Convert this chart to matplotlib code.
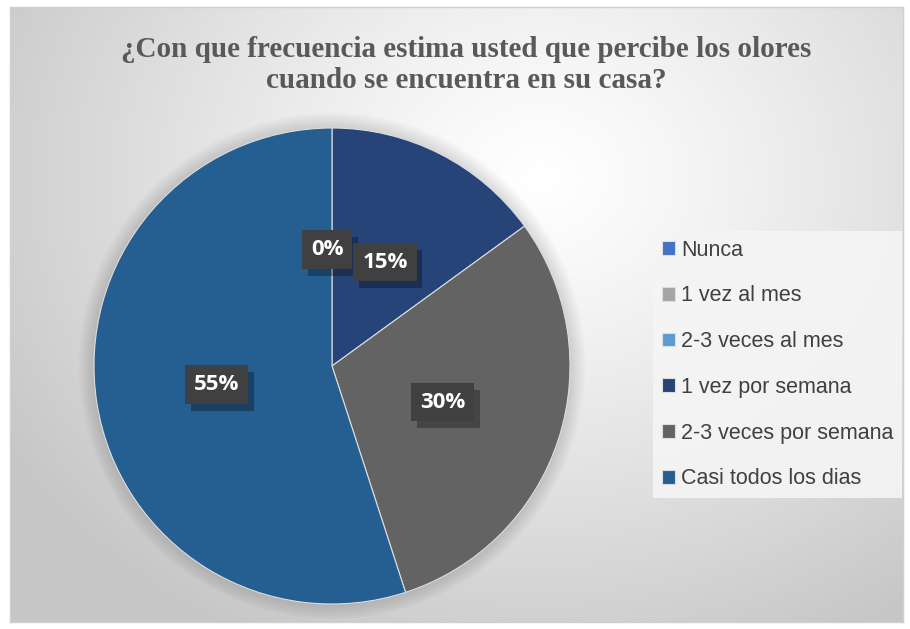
import numpy as np
import matplotlib.pyplot as plt
import matplotlib.patheffects as pe

categories = ["Nunca", "1 vez al mes", "2-3 veces al mes",
              "1 vez por semana", "2-3 veces por semana", "Casi todos los dias"]
values = [0, 0, 0, 15, 30, 55]
colors = ["#4472C4", "#A5A5A5", "#5B9BD5", "#264478", "#636363", "#255E91"]
title = "¿Con que frecuencia estima usted que percibe los olores\ncuando se encuentra en su casa?"

W, H = 910, 629
fig = plt.figure(figsize=(W / 100, H / 100), dpi=100)
fig.patch.set_facecolor("white")

# background: radial gradient inside a thin frame
bg = fig.add_axes([10 / W, 7 / H, 893 / W, 615 / H])
yy, xx = np.mgrid[0:615, 0:893]
cx, cy = 530, 170
d = np.sqrt(((xx - cx) / 620) ** 2 + ((yy - cy) / 520) ** 2)
d = np.clip(d, 0, 1)
shade = 1.0 - 0.22 * d ** 1.2
bg.imshow(np.dstack([shade] * 3), aspect="auto", extent=[0, 893, 615, 0])
bg.set_xticks([])
bg.set_yticks([])
for s in bg.spines.values():
    s.set_color("#d0d0d0")
    s.set_linewidth(1)

fig.text(466 / W, 1 - 65 / H, title, ha="center", va="center",
         fontsize=21, fontweight="bold", color="#595959",
         family="Liberation Serif", linespacing=1.15)

# pie
r_px = 238
ax = fig.add_axes([(332 - r_px) / W, (H - 366 - r_px) / H, 2 * r_px / W, 2 * r_px / H])

wedges, _ = ax.pie(values, colors=colors, startangle=90, counterclock=False,
                   radius=1.0, wedgeprops=dict(linewidth=0.8, edgecolor="#dddddd"))
ax.set_xlim(-1, 1)
ax.set_ylim(-1, 1)
ax.set_aspect("equal")
ax.axis("off")
for w in wedges:
    w.set_zorder(2)

# soft shadow around the pie
for k in range(8):
    circ = plt.Circle((0.0, 0.0), 1.0 + 0.008 * (k + 1), color="black",
                      alpha=0.014, lw=0, zorder=0, clip_on=False)
    ax.add_patch(circ)

total = sum(values)
shown_zero = False
for w, v in zip(wedges, values):
    ang = np.deg2rad((w.theta1 + w.theta2) / 2)
    x, y = 0.49 * np.cos(ang), 0.49 * np.sin(ang)
    if v == 0:
        if shown_zero:
            continue
        shown_zero = True
        x -= 0.02
    txt = f"{round(100 * v / total)}%"
    t = ax.text(x, y, txt, ha="center", va="center", fontsize=16,
                fontweight="bold", color="white", family="Open Sans", zorder=4,
                bbox=dict(boxstyle="square,pad=0.4", fc="#404040", ec="none"))
    t.get_bbox_patch().set_path_effects(
        [pe.SimplePatchShadow(offset=(4, -5), shadow_rgbFace="black", alpha=0.3),
         pe.Normal()])

leg = fig.legend(wedges, categories, loc="upper left",
                 bbox_to_anchor=(653 / W, 1 - 231 / H), frameon=True,
                 prop={"family": "Liberation Sans", "size": 15.5},
                 labelcolor="#404040", handlelength=0.6, handleheight=0.6,
                 handletextpad=0.3, labelspacing=1.15, borderpad=0.4,
                 borderaxespad=0, fancybox=False)
leg.get_frame().set_facecolor("#f5f5f5")
leg.get_frame().set_edgecolor("none")
leg.get_frame().set_alpha(0.9)

fig.savefig("out.png", dpi=100)
